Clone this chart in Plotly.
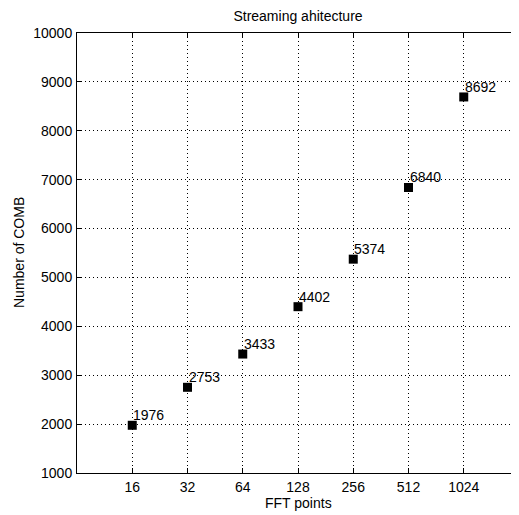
import math
import plotly.graph_objects as go

fft_points = [16, 32, 64, 128, 256, 512, 1024]
comb_counts = [1976, 2753, 3433, 4402, 5374, 6840, 8692]
x_tick_labels = ["16", "32", "64", "128", "256", "512", "1024"]
y_ticks = [1000, 2000, 3000, 4000, 5000, 6000, 7000, 8000, 9000, 10000]
y_tick_labels = [str(v) for v in y_ticks]

FONT = "Liberation Sans, Arial, sans-serif"
FS = 14

fig = go.Figure()
fig.add_trace(go.Scatter(
    x=fft_points, y=comb_counts, mode="markers",
    marker=dict(symbol="square", size=9, color="black", line=dict(width=0)),
    showlegend=False, hoverinfo="x+y",
))

for xv, yv in zip(fft_points, comb_counts):
    fig.add_annotation(
        x=math.log10(xv), y=yv, text=str(yv), showarrow=False,
        xanchor="left", yanchor="middle", xshift=-1, yshift=10,
        font=dict(family=FONT, size=FS, color="black"),
    )

axis_common = dict(
    showline=True, linecolor="black", linewidth=1, mirror="ticks",
    ticks="inside", ticklen=5, tickcolor="black", tickwidth=1,
    showgrid=True, gridcolor="black", gridwidth=1, griddash="1px,3px",
    zeroline=False, automargin=False,
    tickfont=dict(family=FONT, size=FS, color="black"),
)

fig.update_xaxes(
    type="log", range=[0.90309, 3.31133],
    tickvals=fft_points, ticktext=x_tick_labels, ticklabelstandoff=1,
    **axis_common,
)
fig.update_yaxes(
    range=[1000, 10000], tickvals=y_ticks, ticktext=y_tick_labels,
    ticklabelstandoff=1,
    **axis_common,
)

# axis titles
fig.add_annotation(
    xref="paper", yref="paper", x=0.5, y=0, yshift=-30, text="FFT points",
    showarrow=False, xanchor="center", yanchor="middle",
    font=dict(family=FONT, size=FS, color="black"),
)
fig.add_annotation(
    xref="paper", yref="paper", x=0, y=0.5, xshift=-58, text="Number of COMB",
    showarrow=False, xanchor="center", yanchor="middle", textangle=-90,
    font=dict(family=FONT, size=FS, color="black"),
)

fig.update_layout(
    width=511, height=507,
    margin=dict(l=69, r=0, t=25, b=42, autoexpand=False),
    plot_bgcolor="white", paper_bgcolor="white",
    title=dict(text="Streaming ahitecture", xref="paper", x=0.5, xanchor="center",
               y=1 - 8 / 507, yanchor="middle",
               font=dict(family=FONT, size=FS, color="black")),
    font=dict(family=FONT, size=FS, color="black"),
)

fig.write_html("out.html")
